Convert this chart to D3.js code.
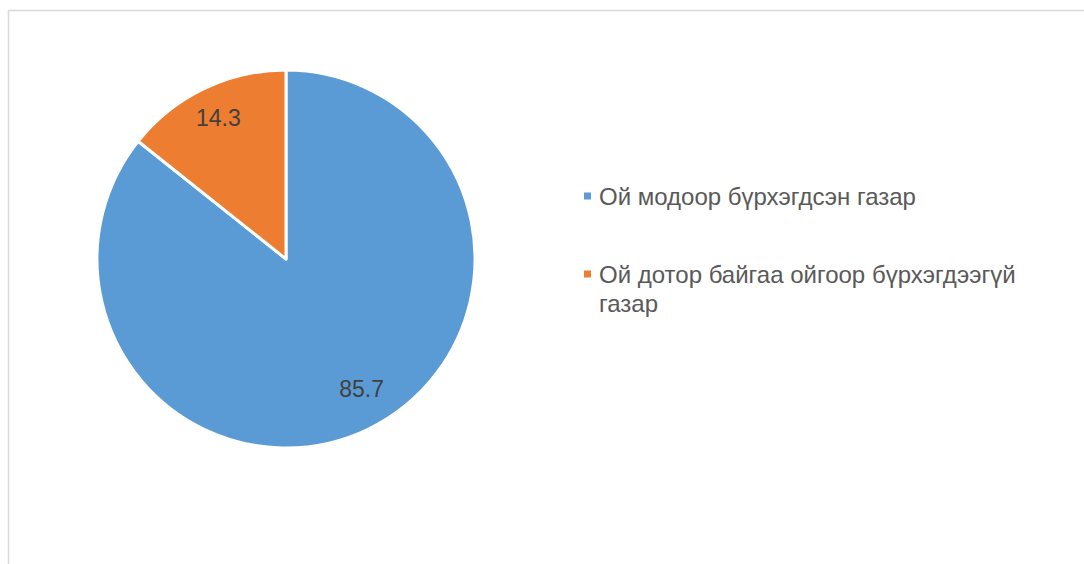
<!DOCTYPE html>
<html><head><meta charset="utf-8">
<script src="https://cdn.jsdelivr.net/npm/d3@7"></script>
<style>body{margin:0;background:#fff}svg{display:block}</style>
</head><body>
<svg id="c" width="1084" height="564"></svg>
<script>
const categories = ["Ой модоор бүрхэгдсэн газар", "Ой дотор байгаа ойгоор бүрхэгдээгүй газар"];
const values = [85.7, 14.3];
const labels = ["85.7", "14.3"];
const colors = ["#5b9bd5", "#ed7d31"];

const svg = d3.select("#c");
svg.append("rect").attr("x", 8.5).attr("y", 10.5).attr("width", 1100).attr("height", 600)
  .attr("fill", "#fff").attr("stroke", "#d9d9d9").attr("stroke-width", 1.5);

const cx = 286, cy = 259, R = 189;
const pie = d3.pie().sort(null).value(d => d)(values);
const arc = d3.arc().innerRadius(0).outerRadius(R);
const g = svg.append("g").attr("transform", `translate(${cx},${cy})`);
g.selectAll("path").data(pie).join("path")
  .attr("d", arc).attr("fill", (d, i) => colors[i])
  .attr("stroke", "#fff").attr("stroke-width", 3).attr("stroke-linejoin", "round");

const labelArc = d3.arc().innerRadius(R * 0.8).outerRadius(R * 0.8);
const lblOffsets = [[10, -6], [-2, -5]];
g.selectAll("text").data(pie).join("text")
  .attr("x", (d, i) => labelArc.centroid(d)[0] + lblOffsets[i][0])
  .attr("y", (d, i) => labelArc.centroid(d)[1] + lblOffsets[i][1])
  .attr("text-anchor", "middle").attr("dominant-baseline", "central")
  .attr("font-family", "Arial, 'Liberation Sans', sans-serif").attr("font-size", 23)
  .attr("fill", "#404040").text((d, i) => labels[i]);

const legend = svg.append("g").attr("font-family", "Arial, 'Liberation Sans', sans-serif")
  .attr("font-size", 24).attr("fill", "#595959");
const legendLines = [["Ой модоор бүрхэгдсэн газар"], ["Ой дотор байгаа ойгоор бүрхэгдээгүй", "газар"]];
const legendY = [196, 274];
legendLines.forEach((lines, i) => {
  legend.append("rect").attr("x", 584).attr("y", legendY[i] - 3.5).attr("width", 7).attr("height", 7)
    .attr("fill", colors[i]);
  const t = legend.append("text").attr("x", 599).attr("y", legendY[i]).attr("dominant-baseline", "central");
  lines.forEach((l, j) => t.append("tspan").attr("x", 599).attr("dy", j === 0 ? 0 : 29).text(l));
});
</script>
</body></html>
